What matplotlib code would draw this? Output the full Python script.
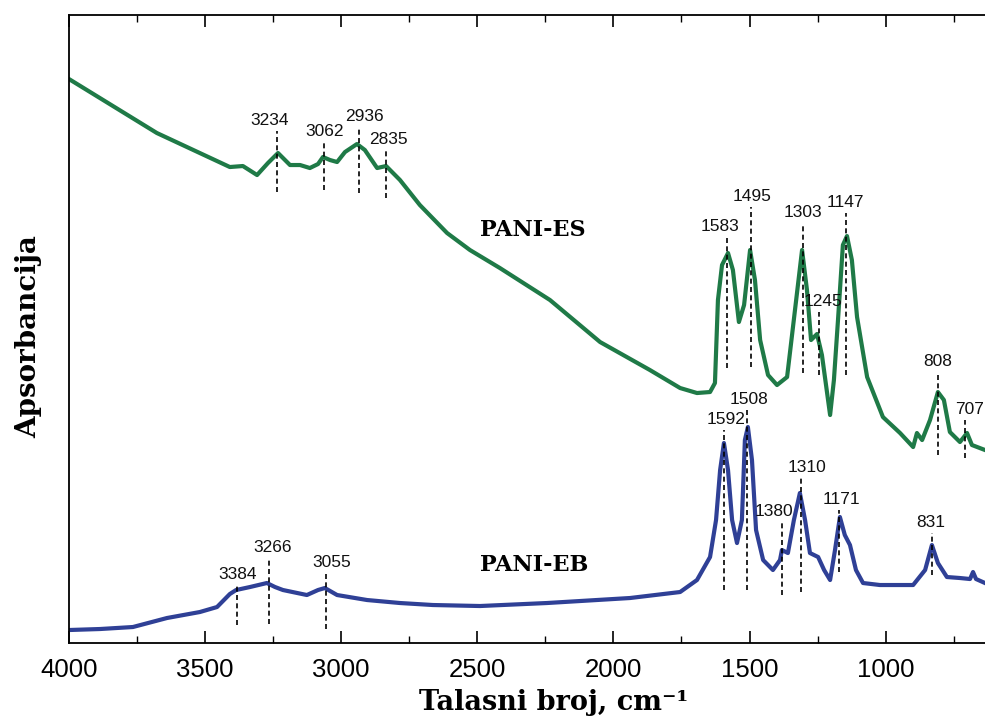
import numpy as np
import matplotlib.pyplot as plt
from matplotlib.ticker import MultipleLocator

# FTIR spectra of polyaniline: emeraldine salt (ES) and emeraldine base (EB)
es_wn = [4000, 3677, 3409, 3361, 3309, 3269, 3232, 3188, 3151, 3115, 3085, 3067,
         3041, 3015, 2986, 2942, 2913, 2868, 2835, 2784, 2711, 2611, 2527, 2417,
         2233, 2049, 1866, 1755, 1693, 1645, 1627, 1616, 1601, 1579, 1561, 1539,
         1520, 1498, 1480, 1461, 1432, 1399, 1362, 1333, 1307, 1289, 1274, 1252,
         1234, 1204, 1190, 1175, 1157, 1142, 1124, 1105, 1068, 1010, 947, 899,
         885, 866, 837, 808, 786, 764, 727, 701, 683, 635]
es_abs = [5.64, 5.10, 4.76, 4.77, 4.68, 4.80, 4.90, 4.78, 4.78, 4.75, 4.79, 4.86,
          4.83, 4.81, 4.91, 4.99, 4.93, 4.75, 4.77, 4.63, 4.38, 4.10, 3.93, 3.75,
          3.43, 3.01, 2.73, 2.55, 2.50, 2.51, 2.60, 3.43, 3.78, 3.90, 3.73, 3.21,
          3.38, 3.93, 3.63, 3.03, 2.68, 2.58, 2.66, 3.33, 3.93, 3.53, 3.03, 3.09,
          2.88, 2.28, 2.63, 3.23, 3.98, 4.07, 3.83, 3.26, 2.66, 2.26, 2.10, 1.96,
          2.10, 2.03, 2.23, 2.51, 2.43, 2.11, 2.01, 2.10, 1.98, 1.93]

eb_wn = [4000, 3886, 3765, 3640, 3519, 3456, 3409, 3386, 3335, 3273, 3243, 3214,
         3126, 3085, 3060, 3015, 2905, 2784, 2663, 2490, 2244, 1939, 1755, 1693,
         1645, 1623, 1608, 1594, 1579, 1564, 1546, 1528, 1517, 1506, 1491, 1476,
         1450, 1414, 1388, 1381, 1359, 1337, 1315, 1296, 1278, 1248, 1226, 1204,
         1186, 1168, 1150, 1131, 1109, 1083, 1021, 899, 855, 830, 808, 775,
         727, 690, 679, 668, 635]
eb_abs = [0.13, 0.14, 0.16, 0.25, 0.31, 0.36, 0.49, 0.53, 0.56, 0.60, 0.56, 0.53,
          0.48, 0.53, 0.55, 0.48, 0.43, 0.40, 0.38, 0.37, 0.40, 0.45, 0.51, 0.63,
          0.86, 1.23, 1.73, 2.00, 1.73, 1.23, 1.00, 1.23, 2.03, 2.16, 1.83, 1.13,
          0.83, 0.73, 0.83, 0.93, 0.90, 1.23, 1.50, 1.23, 0.90, 0.86, 0.73, 0.63,
          0.93, 1.26, 1.08, 0.98, 0.73, 0.60, 0.58, 0.58, 0.73, 0.98, 0.80, 0.66,
          0.65, 0.64, 0.71, 0.64, 0.60]

# marked bands
es_peaks = [3234, 3062, 2936, 2835, 1583, 1495, 1303, 1147, 1245, 808, 707]
eb_peaks = [3384, 3266, 3055, 1592, 1508, 1310, 1380, 1171, 831]

# extent of the dashed marker lines (top, bottom) for each band
es_top = [5.12, 5.01, 5.16, 4.93, 4.06, 4.36, 4.20, 4.30, 3.31, 2.71, 2.23]
es_bot = [4.51, 4.53, 4.50, 4.45, 2.75, 2.76, 2.70, 2.68, 2.68, 1.88, 1.85]
eb_top = [0.58, 0.85, 0.70, 2.13, 2.33, 1.65, 1.21, 1.33, 1.10]
eb_bot = [0.18, 0.19, 0.14, 0.53, 0.53, 0.51, 0.48, 0.71, 0.68]

# sideways nudge of each band label, in points
es_dx = [-6, 0, 4, 2, -5, 1, 0, 0, 3, 0, 3]
eb_dx = [1, 3, 4, 1, 1, 4, -6, 2, -1]

xticks = [4000, 3500, 3000, 2500, 2000, 1500, 1000]

GREEN = '#1f7a47'
BLUE = '#2f4096'

fig = plt.figure(figsize=(9.85, 7.26), dpi=100)
ax = fig.add_axes([0.070, 0.1143, 0.930, 0.865])

ax.plot(es_wn, es_abs, color=GREEN, lw=3.0, solid_joinstyle='round')
ax.plot(eb_wn, eb_abs, color=BLUE, lw=3.0, solid_joinstyle='round')


def mark_bands(peaks, tops, bots, shifts):
    for wn, top, bot, dx in zip(peaks, tops, bots, shifts):
        ax.plot([wn, wn], [bot, top], color='black', lw=1.2,
                ls=(0, (3, 2)), zorder=3)
        ax.annotate(str(wn), (wn, top), xytext=(dx, 2),
                    textcoords='offset points', ha='center', va='bottom',
                    fontsize=12.5, family='Liberation Sans', color='#111111')


mark_bands(es_peaks, es_top, es_bot, es_dx)
mark_bands(eb_peaks, eb_top, eb_bot, eb_dx)

ax.text(2295, 4.13, 'PANI-ES', ha='center', va='center', fontsize=16,
        family='DejaVu Serif', weight='bold')
ax.text(2290, 0.78, 'PANI-EB', ha='center', va='center', fontsize=16,
        family='DejaVu Serif', weight='bold')

ax.set_xlim(4000, 635)
ax.set_ylim(0, 6.28)
ax.set_yticks([])
ax.set_xticks(xticks)
ax.set_xticklabels([str(t) for t in xticks], fontsize=18.5,
                   family='Liberation Sans')
ax.xaxis.set_minor_locator(MultipleLocator(250))
ax.tick_params(axis='x', which='major', direction='in', length=8.5,
               width=1.2, top=True, pad=11)
ax.tick_params(axis='x', which='minor', direction='in', length=5,
               width=1.0, top=True)
for side in ['left', 'top', 'bottom']:
    ax.spines[side].set_linewidth(1.3)
ax.spines['right'].set_visible(False)

fig.text(0.562, 0.032, 'Talasni broj, cm⁻¹', ha='center', va='center',
         fontsize=19.5, family='DejaVu Serif', weight='bold')
fig.text(0.029, 0.536, 'Apsorbancija', ha='center', va='center',
         rotation=90, fontsize=20, family='DejaVu Serif', weight='bold')

fig.savefig('out.png', dpi=100)
